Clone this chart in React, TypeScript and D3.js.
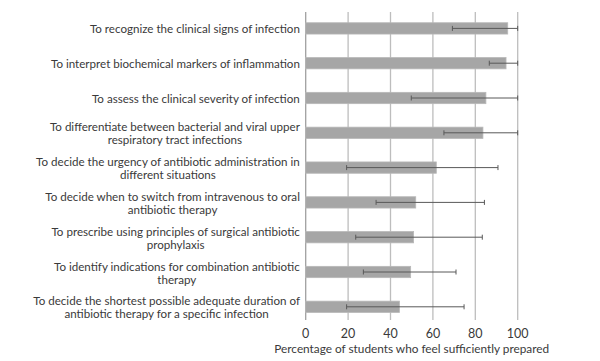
import React from "react";
import * as d3 from "d3";

const W = 600;
const H = 361;

// each label split into its lines
const labels: string[][] = [
  ["To recognize the clinical signs of infection"],
  ["To interpret biochemical markers of inflammation"],
  ["To assess the clinical severity of infection"],
  ["To differentiate between bacterial and viral upper", "respiratory tract infections"],
  ["To decide the urgency of antibiotic administration in", "different situations"],
  ["To decide when to switch from intravenous to oral", "antibiotic therapy"],
  ["To prescribe using principles of surgical antibiotic", "prophylaxis"],
  ["To identify indications for combination antibiotic", "therapy"],
  ["To decide the shortest possible adequate duration of", "antibiotic therapy for a specific infection"],
];
const values = [95.3, 94.5, 85, 83.6, 61.6, 51.9, 50.9, 49.5, 44.2];
const errLow = [69.2, 86.6, 49.8, 65.2, 19.3, 33.2, 23.6, 27.2, 19.3];
const errHigh = [100, 100, 100, 100, 90.7, 84.3, 83.3, 70.9, 74.7];
const ticks = [0, 20, 40, 60, 80, 100];

const FONT = "Lato, 'Noto Sans', sans-serif";
const LABEL_SIZE = 11.6;

let ctx: CanvasRenderingContext2D | null = null;
function textWidth(s: string, size: number) {
  if (!ctx) ctx = document.createElement("canvas").getContext("2d");
  if (!ctx) return s.length * size * 0.48;
  ctx.font = `${size}px Lato`;
  return ctx.measureText(s).width;
}

export default function App() {
  const ids = labels.map((_, i) => String(i));
  const x = d3.scaleLinear().domain([0, 100]).range([305.7, 517.7]);
  const y = d3
    .scaleBand()
    .domain(ids)
    .range([11, 324.2])
    .paddingInner(0.675)
    .paddingOuter(0.3375);
  const bw = y.bandwidth();
  const top = 12;
  const bottom = 320;
  const labelRight = 300;

  return (
    <svg width={W} height={H} style={{ position: "absolute", left: 0, top: 0 }}>
      <rect width={W} height={H} fill="#fff" />
      {/* gridlines */}
      {ticks.map((t) => (
        <line
          key={t}
          x1={x(t)}
          x2={x(t)}
          y1={top}
          y2={bottom}
          stroke={t === 0 ? "#a0a0a0" : "#bdbdbd"}
          strokeWidth={1.3}
        />
      ))}
      {/* bars */}
      {values.map((v, i) => (
        <rect
          key={i}
          x={x(0)}
          y={y(String(i))!}
          width={x(v) - x(0)}
          height={bw}
          fill="#a6a6a6"
          stroke="#b8b8b8"
          strokeWidth={0.8}
        />
      ))}
      {/* error bars */}
      {values.map((_, i) => {
        const cy = y(String(i))! + bw / 2;
        const x1 = x(errLow[i]);
        const x2 = x(errHigh[i]);
        return (
          <g key={i} stroke="#595959" strokeWidth={1}>
            <line x1={x1} x2={x2} y1={cy} y2={cy} />
            <line x1={x1} x2={x1} y1={cy - 2.5} y2={cy + 2.5} />
            <line x1={x2} x2={x2} y1={cy - 2.5} y2={cy + 2.5} />
          </g>
        );
      })}
      {/* category labels: block right-aligned, lines centred within it */}
      {labels.map((lines, i) => {
        const cy = y(String(i))! + bw / 2;
        const lh = 13;
        const y0 = cy - ((lines.length - 1) * lh) / 2;
        const blockW = Math.max(...lines.map((l) => textWidth(l, LABEL_SIZE)));
        const cx = labelRight - blockW / 2;
        return (
          <text
            key={i}
            textAnchor="middle"
            fontFamily={FONT}
            fontSize={LABEL_SIZE}
            fill="#3a3a3a"
            dominantBaseline="central"
          >
            {lines.map((l, j) => (
              <tspan key={j} x={cx} y={y0 + j * lh}>
                {l}
              </tspan>
            ))}
          </text>
        );
      })}
      {/* tick labels */}
      {ticks.map((t) => (
        <text
          key={t}
          x={x(t)}
          y={333}
          textAnchor="middle"
          dominantBaseline="central"
          fontFamily={FONT}
          fontSize={12.5}
          fill="#3a3a3a"
        >
          {t}
        </text>
      ))}
      <text
        x={(x(0) + x(100)) / 2}
        y={348.5}
        textAnchor="middle"
        dominantBaseline="central"
        fontFamily={FONT}
        fontSize={11.8}
        fill="#3a3a3a"
      >
        Percentage of students who feel sufficiently prepared
      </text>
    </svg>
  );
}
